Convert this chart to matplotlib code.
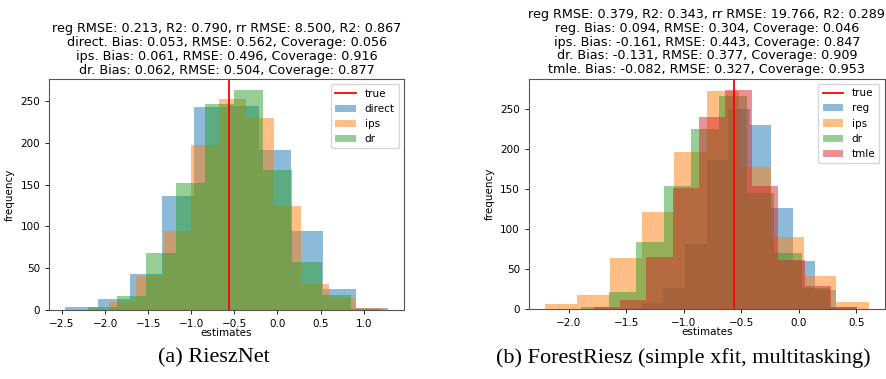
import numpy as np
import matplotlib
matplotlib.use("Agg")
from matplotlib import pyplot as plt

true_value = -0.56

# (a) RieszNet: bin range (lo, hi) and counts per estimator, 10 bins each
left_names = ["direct", "ips", "dr"]
left_ranges = [(-2.46, 1.28), (-1.957, 1.233), (-2.198, 1.19)]
left_counts = [
    [4, 13, 43, 137, 243, 244, 191, 95, 25, 2],
    [10, 41, 94, 198, 253, 230, 125, 31, 14, 3],
    [4, 17, 68, 152, 247, 263, 168, 57, 18, 1],
]
left_title = ("reg RMSE: 0.213, R2: 0.790, rr RMSE: 8.500, R2: 0.867\n"
              "direct. Bias: 0.053, RMSE: 0.562, Coverage: 0.056\n"
              "ips. Bias: 0.061, RMSE: 0.496, Coverage: 0.916\n"
              "dr. Bias: 0.062, RMSE: 0.504, Coverage: 0.877")

# (b) ForestRiesz
right_names = ["reg", "ips", "dr", "tmle"]
right_ranges = [(-1.553, 0.326), (-2.206, 0.607), (-1.895, 0.51), (-1.784, 0.51)]
right_counts = [
    [2, 8, 27, 82, 186, 250, 230, 126, 60, 24],
    [6, 18, 64, 121, 196, 273, 177, 90, 42, 9],
    [3, 21, 84, 154, 225, 266, 145, 70, 27, 3],
    [3, 12, 65, 152, 240, 274, 154, 62, 29, 3],
]
right_title = ("reg RMSE: 0.379, R2: 0.343, rr RMSE: 19.766, R2: 0.289\n"
               "reg. Bias: 0.094, RMSE: 0.304, Coverage: 0.046\n"
               "ips. Bias: -0.161, RMSE: 0.443, Coverage: 0.847\n"
               "dr. Bias: -0.131, RMSE: 0.377, Coverage: 0.909\n"
               "tmle. Bias: -0.082, RMSE: 0.327, Coverage: 0.953")

captions = ["(a) RieszNet", "(b) ForestRiesz (simple xfit, multitasking)"]

fig = plt.figure(figsize=(8.86, 3.79), dpi=100)
ax1 = fig.add_axes([0.0556, 0.182, 0.4003, 0.609])
ax2 = fig.add_axes([0.597, 0.184, 0.4015, 0.608])


def draw(ax, names, ranges, counts, title):
    ax.axvline(true_value, color="red", label="true", lw=1.3)
    for name, (lo, hi), c in zip(names, ranges, counts):
        edges = np.linspace(lo, hi, len(c) + 1)
        ax.hist(edges[:-1], bins=edges, weights=c, alpha=0.5, label=name)
    ax.set_xlabel("estimates", fontsize=7.5, labelpad=-1)
    ax.set_ylabel("frequency", fontsize=7.5)
    ax.set_yticks([0, 50, 100, 150, 200, 250])
    ax.tick_params(labelsize=7.5, length=3, width=0.6)
    for s in ax.spines.values():
        s.set_color("#555555")
        s.set_linewidth(0.8)
    ax.legend(fontsize=7.5, loc="upper right")
    ax.set_title(title, fontsize=9.2, pad=4, linespacing=1.08)


draw(ax1, left_names, left_ranges, left_counts, left_title)
draw(ax2, right_names, right_ranges, right_counts, right_title)

fig.text(0.241, 0.055, captions[0], family="Liberation Serif", fontsize=16, ha="center", va="center")
fig.text(0.771, 0.055, captions[1], family="Liberation Serif", fontsize=16, ha="center", va="center")

fig.savefig("out.png", dpi=100)
